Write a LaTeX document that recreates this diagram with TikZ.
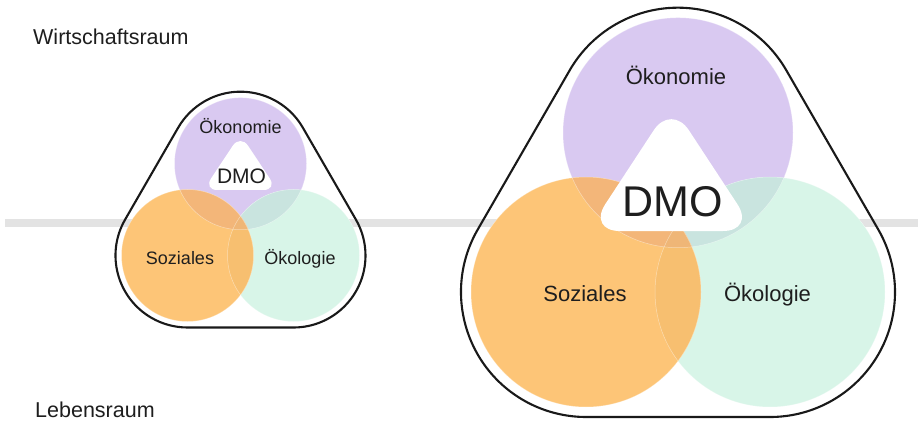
\documentclass[tikz,border=0pt]{standalone}
\usepackage{fontspec}
\setmainfont{Liberation Sans}
\usetikzlibrary{calc}
\definecolor{bandgray}{HTML}{E3E3E3}
\definecolor{cP}{HTML}{D9C9F1}
\definecolor{cO}{HTML}{FDC577}
\definecolor{cG}{HTML}{D8F5E8}
\definecolor{cPO}{HTML}{F3B679}
\definecolor{cPG}{HTML}{C9E4DF}
\definecolor{cOG}{HTML}{F7BF70}
\definecolor{cPOG}{HTML}{EFB677}
\definecolor{ink}{HTML}{1E1E1E}

\tikzset{
  outline/.style={draw=black!90, line width=2.1pt},
  seam/.style={draw=white, draw opacity=0.45, line width=0.5pt},
  dmoshape/.style={fill=white},
  lbl/.style={text=ink, inner sep=0pt, anchor=base},
}

% #1 prefix, #2 hull radius
\newcommand\hullpath[2]{%
  \draw[outline] ($(#1P)+(30:#2)$) arc[start angle=30,end angle=150,radius=#2]
    -- ($(#1O)+(150:#2)$) arc[start angle=150,end angle=270,radius=#2]
    -- ($(#1G)+(270:#2)$) arc[start angle=270,end angle=390,radius=#2] -- cycle;}

% #1 prefix, #2 circle radius
\newcommand\venndraw[2]{%
  \fill[white] (#1P) circle[radius=#2] (#1O) circle[radius=#2] (#1G) circle[radius=#2];
  \fill[cP] (#1P) circle[radius=#2];
  \fill[cG] (#1G) circle[radius=#2];
  \fill[cO] (#1O) circle[radius=#2];
  \begin{scope}
    \clip (#1P) circle[radius=#2];
    \fill[cPG] (#1G) circle[radius=#2];
    \fill[cPO] (#1O) circle[radius=#2];
  \end{scope}
  \begin{scope}
    \clip (#1O) circle[radius=#2];
    \fill[cOG] (#1G) circle[radius=#2];
    \clip (#1G) circle[radius=#2];
    \fill[cPOG] (#1P) circle[radius=#2];
  \end{scope}
  \begin{scope}
    \clip (#1P) circle[radius=#2] (#1O) circle[radius=#2] (#1G) circle[radius=#2];
    \path[seam] (#1P) circle[radius=#2] (#1O) circle[radius=#2] (#1G) circle[radius=#2];
  \end{scope}}

\begin{document}
\begin{tikzpicture}[x=1pt,y=1pt]
\useasboundingbox (0,0) rectangle (918,421);

% centres
\coordinate (sP) at (240.5,257.3);
\coordinate (sO) at (187.5,165.5);
\coordinate (sG) at (293.5,165.5);
\coordinate (lP) at (678,288.3);
\coordinate (lO) at (586,129);
\coordinate (lG) at (770,129);

% horizontal band
\fill[bandgray] (5,194.3) rectangle (918,202);

% outlines
\hullpath{s}{72}
\hullpath{l}{125}

% circles
\venndraw{s}{66}
\venndraw{l}{115}

% DMO triangles
\path[dmoshape, rounded corners=14pt] (203.4,231) -- (240.4,286.8) -- (277.4,231) -- cycle;
\path[dmoshape, rounded corners=32pt] (587.7,190) -- (671.3,317.5) -- (755,190) -- cycle;

% labels small
\node[lbl, font=\fontsize{18}{20}\selectfont] (sEko) at (240.5,287.7) {Ökonomie};
\node[lbl, font=\fontsize{18}{20}\selectfont] (sSoz) at (180,156.7) {Soziales};
\node[lbl, font=\fontsize{18}{20}\selectfont] (sOek) at (300,156.7) {Ökologie};
\node[lbl, font=\fontsize{21}{24}\selectfont] (sDMO) at (241.5,237.7) {DMO};

% labels large
\node[lbl, font=\fontsize{22}{25}\selectfont] (lEko) at (676,336) {Ökonomie};
\node[lbl, font=\fontsize{22}{25}\selectfont] (lSoz) at (585,119.3) {Soziales};
\node[lbl, font=\fontsize{22}{25}\selectfont] (lOek) at (767.5,119.3) {Ökologie};
\node[lbl, font=\fontsize{43}{46}\selectfont] (lDMO) at (673,204.3) {DMO};

% side labels
\node[lbl, anchor=base west, font=\fontsize{21.5}{24}\selectfont] (wr) at (33,376.7) {Wirtschaftsraum};
\node[lbl, anchor=base west, font=\fontsize{21.5}{24}\selectfont] (lr) at (35,3.3) {Lebensraum};
\end{tikzpicture}
\end{document}
